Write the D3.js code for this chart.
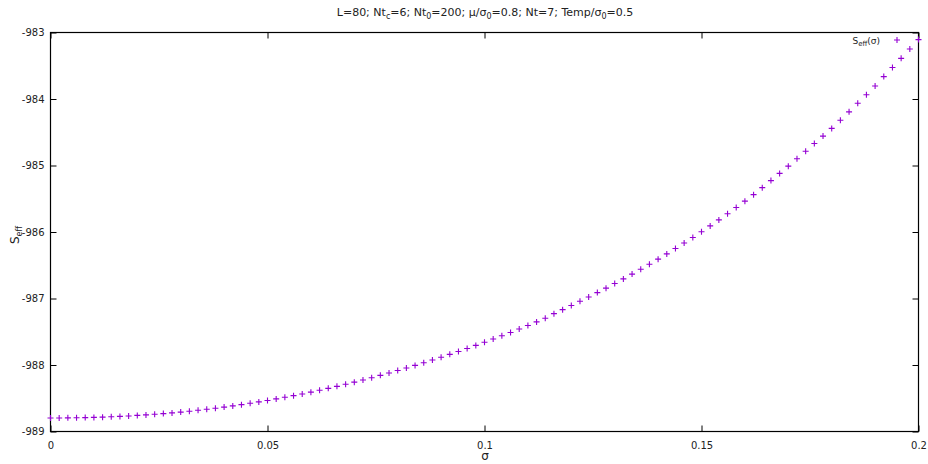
<!DOCTYPE html>
<html>
<head>
<meta charset="utf-8">
<script src="https://cdn.jsdelivr.net/npm/d3@7"></script>
<style>
  body { margin: 0; background: #fff; }
  svg { font-family: "DejaVu Sans", sans-serif; }
</style>
</head>
<body>
<svg id="svg" width="928" height="464"></svg>
<script>
// sigma grid and S_eff values
var sigma = [
  0.000, 0.002, 0.004, 0.006, 0.008, 0.010, 0.012, 0.014, 0.016, 0.018,
  0.020, 0.022, 0.024, 0.026, 0.028, 0.030, 0.032, 0.034, 0.036, 0.038,
  0.040, 0.042, 0.044, 0.046, 0.048, 0.050, 0.052, 0.054, 0.056, 0.058,
  0.060, 0.062, 0.064, 0.066, 0.068, 0.070, 0.072, 0.074, 0.076, 0.078,
  0.080, 0.082, 0.084, 0.086, 0.088, 0.090, 0.092, 0.094, 0.096, 0.098,
  0.100, 0.102, 0.104, 0.106, 0.108, 0.110, 0.112, 0.114, 0.116, 0.118,
  0.120, 0.122, 0.124, 0.126, 0.128, 0.130, 0.132, 0.134, 0.136, 0.138,
  0.140, 0.142, 0.144, 0.146, 0.148, 0.150, 0.152, 0.154, 0.156, 0.158,
  0.160, 0.162, 0.164, 0.166, 0.168, 0.170, 0.172, 0.174, 0.176, 0.178,
  0.180, 0.182, 0.184, 0.186, 0.188, 0.190, 0.192, 0.194, 0.196, 0.198,
  0.200
];
var seff = [
  -988.796, -988.796, -988.795, -988.793, -988.791, -988.788, -988.784, -988.779, -988.773, -988.766,
  -988.758, -988.750, -988.741, -988.731, -988.720, -988.708, -988.695, -988.681, -988.666, -988.650,
  -988.633, -988.615, -988.596, -988.576, -988.555, -988.533, -988.510, -988.486, -988.461, -988.435,
  -988.408, -988.380, -988.351, -988.321, -988.290, -988.258, -988.225, -988.191, -988.156, -988.120,
  -988.083, -988.045, -988.006, -987.966, -987.925, -987.883, -987.840, -987.796, -987.751, -987.705,
  -987.658, -987.610, -987.561, -987.511, -987.459, -987.406, -987.352, -987.297, -987.228, -987.168,
  -987.106, -987.042, -986.977, -986.911, -986.844, -986.775, -986.705, -986.633, -986.560, -986.485,
  -986.408, -986.329, -986.248, -986.166, -986.082, -985.996, -985.908, -985.818, -985.726, -985.632,
  -985.536, -985.438, -985.333, -985.227, -985.119, -985.010, -984.899, -984.786, -984.670, -984.558,
  -984.442, -984.320, -984.193, -984.063, -983.935, -983.804, -983.663, -983.527, -983.389, -983.249,
  -983.107
];
var xTicks = [0, 0.05, 0.1, 0.15, 0.2];
var xTickLabels = ["0", "0.05", "0.1", "0.15", "0.2"];
var yTicks = [-989, -988, -987, -986, -985, -984, -983];
var yTickLabels = ["-989", "-988", "-987", "-986", "-985", "-984", "-983"];

var svg = d3.select("#svg");
var margin = {left: 50.5, right: 9.5, top: 32.5, bottom: 32.5},
    width = 928, height = 464;
var color = "#9400d3";

var x = d3.scaleLinear().domain([0, 0.2]).range([margin.left, width - margin.right]);
var y = d3.scaleLinear().domain([-989, -983]).range([height - margin.bottom, margin.top]);

var tickLen = 6;

// bottom axis (ticks inward)
var xAxis = svg.append("g")
    .attr("transform", "translate(0," + y(-989) + ")")
    .call(d3.axisBottom(x).tickValues(xTicks).tickSize(-tickLen).tickPadding(10)
        .tickFormat(function(d, i) { return xTickLabels[i]; }));
// top mirror ticks
var xTop = svg.append("g")
    .attr("transform", "translate(0," + y(-983) + ")")
    .call(d3.axisTop(x).tickValues(xTicks).tickSize(-tickLen).tickFormat(""));
// left axis
var yAxis = svg.append("g")
    .attr("transform", "translate(" + x(0) + ",0)")
    .call(d3.axisLeft(y).tickValues(yTicks).tickSize(-tickLen).tickPadding(6)
        .tickFormat(function(d, i) { return yTickLabels[i]; }));
// right mirror ticks
var yRight = svg.append("g")
    .attr("transform", "translate(" + x(0.2) + ",0)")
    .call(d3.axisRight(y).tickValues(yTicks).tickSize(-tickLen).tickFormat(""));

[xAxis, xTop, yAxis, yRight].forEach(function(g) {
    g.select(".domain").remove();
    g.selectAll("line").attr("stroke", "#000");
    g.selectAll("text").attr("fill", "#222").style("font-size", "10px").style("font-family", "DejaVu Sans, sans-serif");
});

// frame
svg.append("rect")
    .attr("x", x(0)).attr("y", y(-983))
    .attr("width", x(0.2) - x(0)).attr("height", y(-989) - y(-983))
    .attr("fill", "none").attr("stroke", "#000").attr("stroke-width", 1.2);

// data points as "+"
var pts = sigma.map(function(s, i) { return [s, seff[i]]; });
var r = 3;
svg.append("g")
    .selectAll("path")
    .data(pts)
    .enter()
    .append("path")
    .attr("d", function(d) {
        var px = x(d[0]), py = y(d[1]);
        return "M" + (px - r) + "," + py + "H" + (px + r) + "M" + px + "," + (py - r) + "V" + (py + r);
    })
    .attr("stroke", color)
    .attr("stroke-width", 1.1)
    .attr("fill", "none");

// legend
var leg = svg.append("g");
var legText = leg.append("text")
    .attr("x", 880).attr("y", 43.5)
    .attr("text-anchor", "end")
    .style("font-size", "9px").attr("fill", "#222");
legText.append("tspan").text("S");
legText.append("tspan").attr("dy", 2).style("font-size", "7px").text("eff");
legText.append("tspan").attr("dy", -2).text("(σ)");
leg.append("path")
    .attr("d", "M" + (897 - r) + ",40H" + (897 + r) + "M897," + (40 - r) + "V" + (40 + r))
    .attr("stroke", color).attr("stroke-width", 1.1);

// title
var title = svg.append("text")
    .attr("x", 485).attr("y", 16)
    .attr("text-anchor", "middle")
    .style("font-size", "11px").attr("fill", "#222");
function sub(t, s) {
    t.append("tspan").attr("dy", 3).style("font-size", "8px").text(s);
}
title.append("tspan").text("L=80; Nt");
sub(title, "c");
title.append("tspan").attr("dy", -3).text("=6; Nt");
sub(title, "0");
title.append("tspan").attr("dy", -3).text("=200; μ/σ");
sub(title, "0");
title.append("tspan").attr("dy", -3).text("=0.8; Nt=7; Temp/σ");
sub(title, "0");
title.append("tspan").attr("dy", -3).text("=0.5");

// x label
svg.append("text")
    .attr("x", 485).attr("y", 460)
    .attr("text-anchor", "middle")
    .style("font-size", "12px").attr("fill", "#222")
    .text("σ");

// y label
var yl = svg.append("text")
    .attr("transform", "translate(19,235) rotate(-90)")
    .attr("text-anchor", "middle")
    .style("font-size", "12px").attr("fill", "#222");
yl.append("tspan").text("S");
yl.append("tspan").attr("dy", 3).style("font-size", "8px").text("eff");
</script>
</body>
</html>
